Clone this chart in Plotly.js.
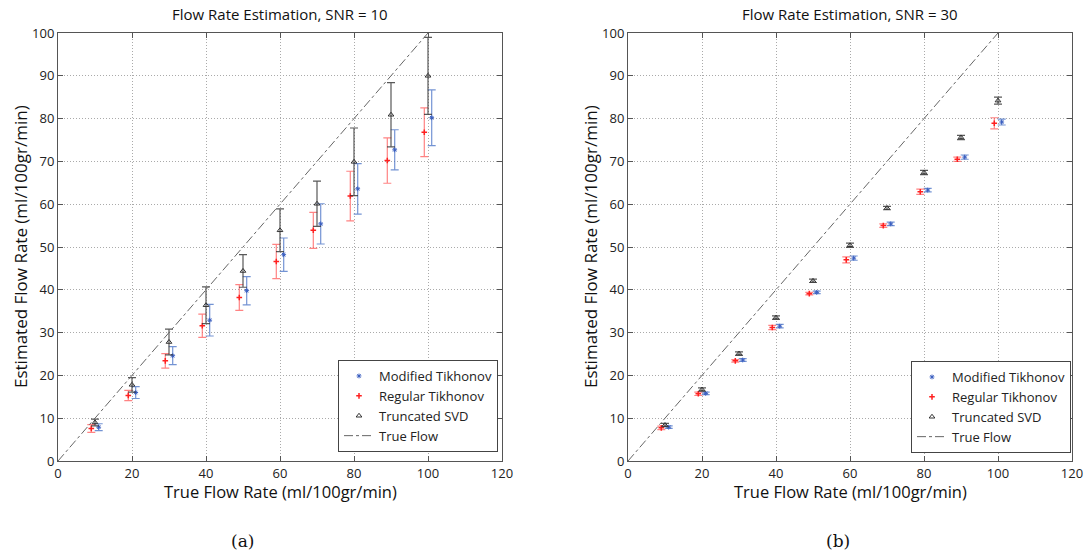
<!DOCTYPE html>
<html><head><meta charset="utf-8">
<script src="https://cdn.plot.ly/plotly-3.0.1.min.js"></script>
<style>body{margin:0;background:#fff}#chart{width:1088px;height:558px}</style>
</head><body><div id="chart"></div>
<script>
// True flow rates
const trueFlow = [10, 20, 30, 40, 50, 60, 70, 80, 90, 100];
// SNR = 10
const mod10 = [7.9, 16.0, 24.6, 32.9, 39.8, 48.2, 55.4, 63.6, 72.7, 80.2];
const mod10Err = [0.8, 1.4, 2.1, 3.7, 3.3, 3.9, 4.7, 5.9, 4.7, 6.5];
const reg10 = [7.6, 15.3, 23.4, 31.6, 38.2, 46.6, 53.9, 61.9, 70.2, 76.8];
const reg10Err = [0.9, 1.2, 1.7, 2.7, 3.0, 4.0, 4.2, 5.8, 5.3, 5.7];
const tsvd10 = [9.0, 17.8, 27.8, 36.4, 44.4, 53.9, 60.1, 69.9, 80.9, 90.0];
const tsvd10Err = [0.8, 1.7, 3.0, 4.3, 3.8, 5.0, 5.3, 7.9, 7.5, 9.0];
// SNR = 30
const mod30 = [7.9, 15.8, 23.6, 31.5, 39.4, 47.4, 55.4, 63.3, 71.0, 79.2];
const mod30Err = [0.3, 0.3, 0.3, 0.4, 0.3, 0.5, 0.4, 0.4, 0.5, 0.7];
const reg30 = [7.75, 15.7, 23.4, 31.2, 39.1, 47.0, 55.0, 62.9, 70.5, 78.9];
const reg30Err = [0.4, 0.4, 0.3, 0.5, 0.3, 0.7, 0.4, 0.6, 0.5, 1.3];
const tsvd30 = [8.4, 16.7, 25.1, 33.5, 42.1, 50.4, 59.1, 67.4, 75.6, 84.2];
const tsvd30Err = [0.4, 0.4, 0.4, 0.4, 0.4, 0.5, 0.4, 0.5, 0.5, 0.8];
const identity = [0, 100];
const offset = 1;
const xTitle = 'True Flow Rate (ml/100gr/min)';
const yTitle = 'Estimated Flow Rate (ml/100gr/min)';
const titles = ['Flow Rate Estimation, SNR = 10', 'Flow Rate Estimation, SNR = 30'];
const captions = ['(a)', '(b)'];

const font = "Open Sans, Noto Sans, sans-serif";
function makeSet(xa, ya, leg, mod, modE, reg, regE, tsvd, tsvdE) {
  return [
    {x: trueFlow.map(v => v + offset), y: mod, xaxis: xa, yaxis: ya, legend: leg, mode: 'markers', name: 'Modified Tikhonov',
     type: 'scatter', marker: {symbol: 'asterisk-open', size: 4, color: '#3b5fc0', line: {color: '#3b5fc0', width: 1}},
     error_y: {type: 'data', array: modE, visible: true, color: 'rgba(80,120,200,0.8)', thickness: 1.2, width: 4}},
    {x: trueFlow.map(v => v - offset), y: reg, xaxis: xa, yaxis: ya, legend: leg, mode: 'markers', name: 'Regular Tikhonov',
     type: 'scatter', marker: {symbol: 'cross-thin-open', size: 4, color: '#ff2020', line: {color: '#ff2020', width: 1.5}},
     error_y: {type: 'data', array: regE, visible: true, color: 'rgba(255,90,90,0.75)', thickness: 1.2, width: 4}},
    {x: trueFlow, y: tsvd, xaxis: xa, yaxis: ya, legend: leg, mode: 'markers', name: 'Truncated SVD',
     type: 'scatter', marker: {symbol: 'triangle-up-open', size: 5, color: '#333', line: {color: '#333', width: 1}},
     error_y: {type: 'data', array: tsvdE, visible: true, color: 'rgba(60,60,60,0.85)', thickness: 1.2, width: 4}},
    {x: identity, y: identity, xaxis: xa, yaxis: ya, legend: leg, mode: 'lines', name: 'True Flow', type: 'scatter',
     line: {color: '#666', width: 1, dash: 'dashdot'}}
  ];
}
const data = [
  ...makeSet('x', 'y', 'legend', mod10, mod10Err, reg10, reg10Err, tsvd10, tsvd10Err),
  ...makeSet('x2', 'y2', 'legend2', mod30, mod30Err, reg30, reg30Err, tsvd30, tsvd30Err)
];
function xaxis(dom, anchor) {
  return {domain: dom, anchor: anchor, range: [0, 120], dtick: 20, tick0: 0, showgrid: true, gridcolor: '#aaa', griddash: '1px,2px',
    zeroline: false, showline: true, mirror: 'ticks', linecolor: '#555', linewidth: 1, ticks: 'inside', ticklen: 5, tickcolor: '#555',
    tickfont: {size: 13, color: '#222', family: font}};
}
function yaxis(dom, anchor) {
  return {domain: dom, anchor: anchor, range: [0, 100], dtick: 10, tick0: 0, showgrid: true, gridcolor: '#aaa', griddash: '1px,2px',
    zeroline: false, showline: true, mirror: 'ticks', linecolor: '#555', linewidth: 1, ticks: 'inside', ticklen: 5, tickcolor: '#555',
    tickfont: {size: 13, color: '#222', family: font}};
}
const yd = [1 - 461/558, 1 - 33/558];
const legendBase = {bgcolor: '#fff', bordercolor: '#444', borderwidth: 1, font: {size: 13, color: '#222', family: font},
  xanchor: 'left', yanchor: 'top', tracegroupgap: 0, itemwidth: 30};
const centers = [280, 850];
const yTitleX = [20, 590];
const capX = [242, 838];
const ann = [];
for (let i = 0; i < 2; i++) {
  ann.push({text: titles[i], x: centers[i]/1088, y: 1 - 14/558, xref: 'paper', yref: 'paper', showarrow: false,
     font: {size: 15, color: '#111', family: font}, xanchor: 'center', yanchor: 'middle'});
  ann.push({text: xTitle, x: centers[i]/1088, y: 1 - 491/558, xref: 'paper', yref: 'paper', showarrow: false, borderpad: 0,
     font: {size: 16.5, color: '#111', family: font}, xanchor: 'center', yanchor: 'middle'});
  ann.push({text: yTitle, x: yTitleX[i]/1088, y: 1 - 247/558, xref: 'paper', yref: 'paper', showarrow: false, textangle: -90, borderpad: 0,
     font: {size: 17, color: '#111', family: font}, xanchor: 'center', yanchor: 'middle'});
  ann.push({text: captions[i], x: capX[i]/1088, y: 1 - 541/558, xref: 'paper', yref: 'paper', showarrow: false,
     font: {size: 17, color: '#111', family: 'DejaVu Serif, serif'}, xanchor: 'center', yanchor: 'middle'});
}
const layout = {
  width: 1088, height: 558, margin: {l: 0, r: 0, t: 0, b: 0}, paper_bgcolor: '#fff', plot_bgcolor: '#fff',
  showlegend: true,
  xaxis: xaxis([58/1088, 502/1088], 'y'), yaxis: yaxis(yd, 'x'),
  xaxis2: xaxis([628/1088, 1072/1088], 'y2'), yaxis2: yaxis(yd, 'x2'),
  legend: Object.assign({}, legendBase, {x: 338/1088, y: 1 - 360/558}),
  legend2: Object.assign({}, legendBase, {x: 911/1088, y: 1 - 361/558}),
  annotations: ann
};
Plotly.newPlot('chart', data, layout, {displayModeBar: false, staticPlot: true});
</script></body></html>
